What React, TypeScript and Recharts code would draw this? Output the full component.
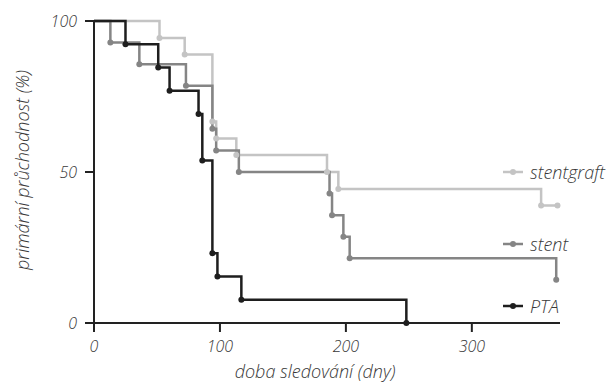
import { Legend, Line, LineChart, XAxis, YAxis } from 'recharts';

// follow-up time (days) and primary patency (%)
const ptaDays = [0, 25, 51, 60, 83, 86, 94, 98, 117, 248];
const ptaPatency = [100, 92.3, 84.6, 76.9, 69.2, 53.8, 23.1, 15.4, 7.7, 0];

const stentDays = [0, 13, 36, 73, 94, 97, 115, 187, 189, 198, 203, 367];
const stentPatency = [100, 92.9, 85.7, 78.6, 64.3, 57.1, 50, 42.9, 35.7, 28.6, 21.4, 14.3];

const graftDays = [0, 52, 72, 94, 97, 113, 185, 194, 355, 368];
const graftPatency = [100, 94.4, 88.9, 66.7, 61.1, 55.6, 50, 44.4, 38.9, 38.9];

const xTicks = [0, 100, 200, 300];
const yTicks = [0, 50, 100];

const toRows = (days: number[], vals: number[]) => days.map((d, i) => ({ day: d, value: vals[i] }));

const series = [
  { name: 'stentgraft', color: '#c4c4c4', data: toRows(graftDays, graftPatency) },
  { name: 'stent', color: '#858585', data: toRows(stentDays, stentPatency) },
  { name: 'PTA', color: '#1e1e1e', data: toRows(ptaDays, ptaPatency) },
];

const font = "'Open Sans', 'DejaVu Sans', sans-serif";
const textFill = '#383838';
const axisColor = '#222';

const tickStyle = { fontFamily: font, fontStyle: 'italic' as const, fontWeight: 300, fontSize: 16, fill: textFill };
const xTitleStyle = { ...tickStyle, fontSize: 18 };
const yTitleStyle = { ...tickStyle, fontSize: 18 };

function makeDot(color: string) {
  return (props: any) => {
    const { cx, cy, index, key } = props;
    if (index === 0) return <g key={key ?? `d${index}`} />;
    return <circle key={key ?? `d${index}`} cx={cx} cy={cy} r={3} fill={color} stroke="none" />;
  };
}

function SideLegend() {
  const gaps = [0, 48, 38];
  return (
    <div style={{ fontFamily: font, fontStyle: 'italic', fontWeight: 300, fontSize: 18, color: textFill }}>
      {series.map((s, i) => (
        <div key={s.name} style={{ display: 'flex', alignItems: 'center', height: 24, marginTop: gaps[i] }}>
          <svg width={20} height={8} style={{ marginRight: 7 }}>
            <line x1={0} y1={4} x2={20} y2={4} stroke={s.color} strokeWidth={2.5} />
            <circle cx={10} cy={4} r={3} fill={s.color} />
          </svg>
          <span>{s.name}</span>
        </div>
      ))}
    </div>
  );
}

function YLabel(props: any) {
  const vb = props.viewBox;
  const cy = vb.y + vb.height / 2 - 2;
  return (
    <text x={22} y={cy} transform={`rotate(-90, 22, ${cy})`} textAnchor="middle" dominantBaseline="central" style={yTitleStyle}>
      primární průchodnost (%)
    </text>
  );
}

export default function App() {
  return (
    <div style={{ position: 'absolute', left: 0, top: 0, background: '#fff' }}>
      <LineChart width={610} height={383} margin={{ top: 21, right: 50, bottom: 0, left: 0 }}>
        <XAxis
          dataKey="day"
          type="number"
          domain={[0, 370]}
          ticks={xTicks}
          allowDuplicatedCategory={false}
          height={60}
          tickSize={9}
          tickMargin={9}
          axisLine={{ stroke: axisColor, strokeWidth: 2 }}
          tickLine={{ stroke: axisColor, strokeWidth: 2 }}
          tick={tickStyle}
          label={{ value: 'doba sledování (dny)', position: 'insideBottom', offset: 5, dx: -12, style: xTitleStyle }}
        />
        <YAxis
          type="number"
          domain={[0, 100]}
          ticks={yTicks}
          width={94}
          tickSize={9}
          tickMargin={8}
          axisLine={{ stroke: axisColor, strokeWidth: 2 }}
          tickLine={{ stroke: axisColor, strokeWidth: 2 }}
          tick={tickStyle}
          label={YLabel}
        />
        <Legend
          verticalAlign="middle"
          layout="horizontal"
          content={SideLegend}
          wrapperStyle={{ left: 503, top: 160, width: 107 }}
        />
        {series.map((s) => (
          <Line
            key={s.name}
            data={s.data}
            dataKey="value"
            name={s.name}
            type="stepAfter"
            stroke={s.color}
            strokeWidth={2.5}
            dot={makeDot(s.color)}
            activeDot={false}
            isAnimationActive={false}
          />
        ))}
      </LineChart>
    </div>
  );
}
